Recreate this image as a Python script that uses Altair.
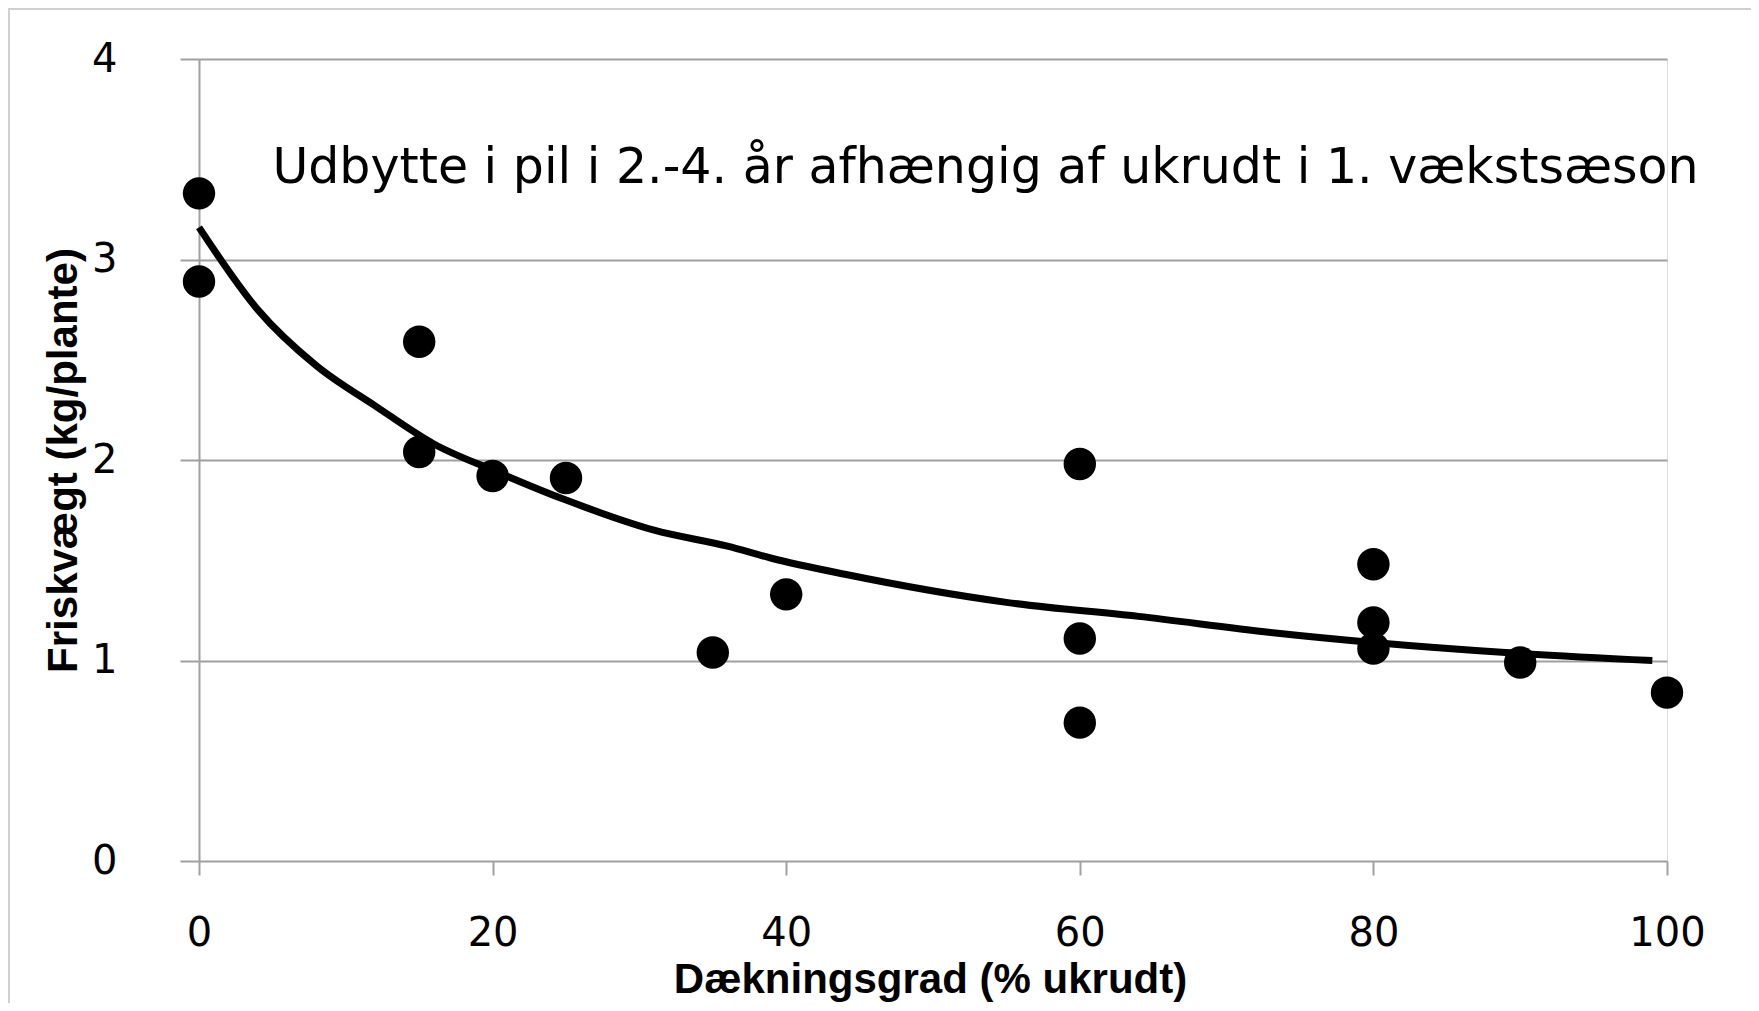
import altair as alt
import pandas as pd

# observed points
obs_x = [0, 0, 15, 15, 20, 25, 35, 40, 60, 60, 60, 80, 80, 80, 90, 100]
obs_y = [3.33, 2.89, 2.59, 2.04, 1.92, 1.91, 1.04, 1.33, 1.98, 1.11, 0.69, 1.48, 1.19, 1.06, 0.99, 0.84]

# fitted curve
fit_x = [0, 4, 8, 12, 16, 20, 25, 31, 36, 39, 44, 55, 64, 73, 80, 89, 99]
fit_y = [3.16, 2.75, 2.47, 2.27, 2.08, 1.95, 1.80, 1.65, 1.57, 1.51, 1.43, 1.29, 1.22, 1.14, 1.09, 1.04, 1.00]

x_ticks = [0, 20, 40, 60, 80, 100]
y_ticks = [0, 1, 2, 3, 4]

annotation = "Udbytte i pil i 2.-4. år afhængig af ukrudt i 1. vækstsæson"
x_title = "Dækningsgrad (% ukrudt)"
y_title = "Friskvægt (kg/plante)"

pts = pd.DataFrame({"x": obs_x, "y": obs_y})
fit = pd.DataFrame({"x": fit_x, "y": fit_y})
ann = pd.DataFrame({"x": [5.0], "y": [3.38], "t": [annotation]})
frame_df = pd.DataFrame({"a": [0]})

GRAY = "#a0a0a0"
W, H = 1468, 802

xscale = alt.Scale(domain=[0, 100], nice=False, zero=False)
yscale = alt.Scale(domain=[0, 4], nice=False)

xaxis = alt.Axis(
    values=x_ticks, format="d", grid=False, domain=False, ticks=True, tickSize=14,
    tickColor=GRAY, tickWidth=2, labelFont="DejaVu Sans", labelFontSize=40,
    labelColor="#000000", labelPadding=38, labelFlush=False,
    title=x_title, titleFont="Liberation Sans", titleFontSize=42,
    titleFontWeight="bold", titleColor="#000000", titleX=731, titleY=131,
    titleAlign="center", titleBaseline="alphabetic",
)
yaxis = alt.Axis(
    values=y_ticks, format="d", grid=True, gridColor=GRAY, gridWidth=2, domain=True,
    domainColor=GRAY, domainWidth=2, ticks=True, tickSize=19, tickColor=GRAY,
    tickWidth=2, labelFont="DejaVu Sans", labelFontSize=40, labelColor="#000000",
    labelPadding=63, labelFlush=False,
    title=y_title, titleFont="Liberation Sans", titleFontSize=42,
    titleFontWeight="bold", titleColor="#000000", titleX=-136, titleY=401,
    titleAlign="center", titleBaseline="middle", titleAngle=-90,
)

frame = alt.Chart(frame_df).mark_rect(
    fill=None, stroke="#d0d0d0", strokeWidth=2, filled=False
).encode(
    x=alt.value(-190), x2=alt.value(1556), y=alt.value(-50), y2=alt.value(1000)
)

line = alt.Chart(fit).mark_line(
    color="#000000", strokeWidth=7, interpolate="monotone"
).encode(
    x=alt.X("x:Q", scale=xscale, axis=xaxis),
    y=alt.Y("y:Q", scale=yscale, axis=yaxis),
)

points = alt.Chart(pts).mark_circle(
    color="#000000", opacity=1, size=1050
).encode(
    x=alt.X("x:Q", scale=xscale),
    y=alt.Y("y:Q", scale=yscale),
)

text = alt.Chart(ann).mark_text(
    font="DejaVu Sans", fontSize=49, align="left", baseline="alphabetic",
    color="#000000"
).encode(
    x=alt.X("x:Q", scale=xscale),
    y=alt.Y("y:Q", scale=yscale),
    text="t:N",
)

chart = alt.layer(frame, line, points, text).properties(
    width=W, height=H,
    padding={"left": 191, "top": 51, "right": 84, "bottom": 142},
    autosize=alt.AutoSizeParams(type="none"),
).configure_view(stroke=None).configure(background="#ffffff")

chart.save("out.html", embed_options={"renderer": "svg", "actions": False})
